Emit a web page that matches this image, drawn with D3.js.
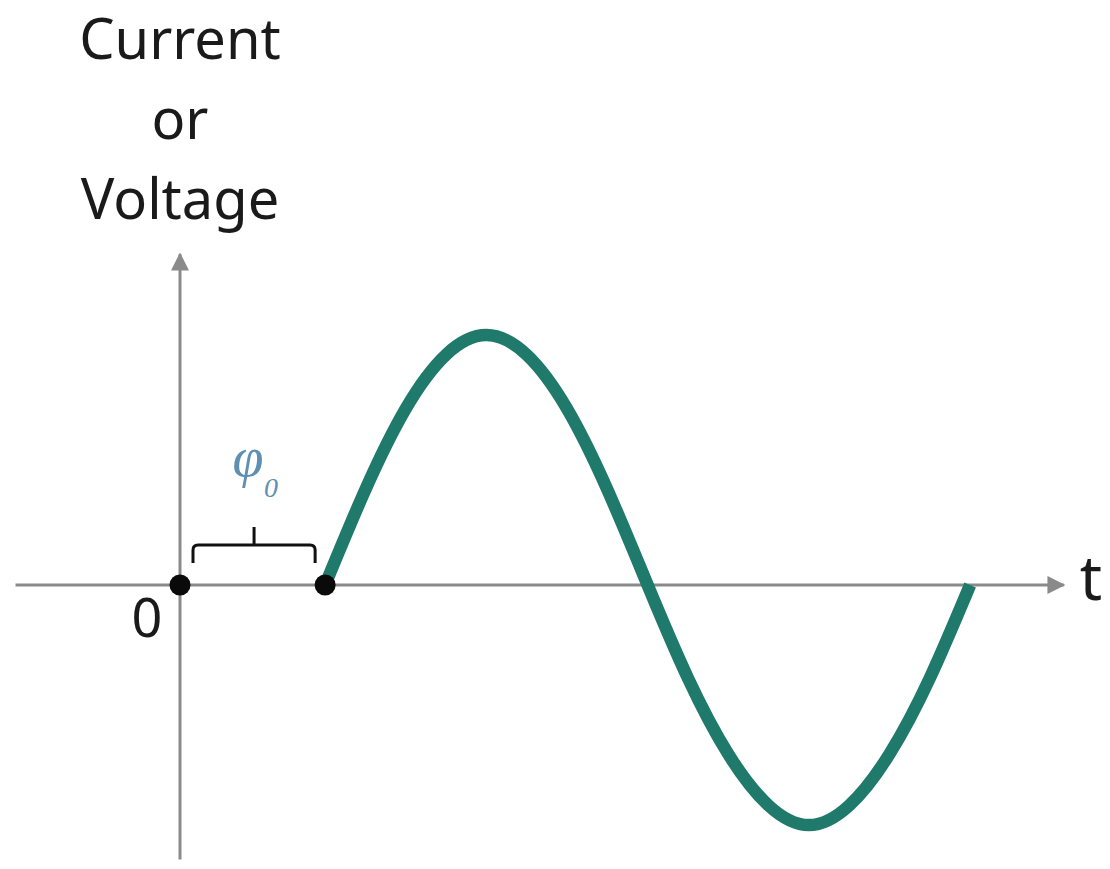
<!DOCTYPE html>
<html><head><meta charset="utf-8">
<script src="https://cdn.jsdelivr.net/npm/d3@7"></script>
<style>html,body{margin:0;padding:0;background:#fff;}svg{display:block;}</style>
</head><body>
<script>
// ---- data ----
const titleLines = ["Current", "or", "Voltage"];
const axisRangeT = [-2.55, 13.7];      // horizontal axis extent (t units)
const axisRangeY = [-1.12, 1.35];      // vertical axis extent (amplitude units)
const phaseT = 2.25;                   // wave start (phase offset φ0)
const waveT = [2.25, 2.875, 3.5, 4.125, 4.75, 5.375, 6, 6.625, 7.25, 7.875, 8.5, 9.125, 9.75, 10.375, 11, 11.625, 12.25];
const waveY = [0, 0.39, 0.72, 0.94, 1.02, 0.94, 0.72, 0.39, 0, -0.38, -0.69, -0.9, -0.98, -0.9, -0.69, -0.38, 0];
const originLabel = "0";
const tLabel = "t";
const phaseLabel = "φ";
const phaseSub = "0";

const W = 1110, H = 869;
const svg = d3.select("body").append("svg").attr("width", W).attr("height", H);

const x = d3.scaleLinear().domain([0, 10]).range([180, 825]);
const y = d3.scaleLinear().domain([-1, 1]).range([830, 340]);

const defs = svg.append("defs");
defs.append("marker").attr("id", "arr").attr("viewBox", "0 0 10 10")
  .attr("refX", 9).attr("refY", 5).attr("markerWidth", 7).attr("markerHeight", 6)
  .attr("markerUnits", "strokeWidth").attr("orient", "auto")
  .append("path").attr("d", "M0,0 L10,5 L0,10 Z").attr("fill", "#8a8a8a");

const axisColor = "#8a8a8a";
// horizontal axis
svg.append("line").attr("x1", x(axisRangeT[0])).attr("x2", x(axisRangeT[1]))
  .attr("y1", y(0)).attr("y2", y(0)).attr("stroke", axisColor).attr("stroke-width", 3)
  .attr("marker-end", "url(#arr)");
// vertical axis
svg.append("line").attr("x1", x(0)).attr("x2", x(0))
  .attr("y1", y(axisRangeY[0])).attr("y2", y(axisRangeY[1])).attr("stroke", axisColor).attr("stroke-width", 3)
  .attr("marker-end", "url(#arr)");

// wave
const pts = waveT.map((t, i) => [t, waveY[i]]);
svg.append("path").datum(pts)
  .attr("d", d3.line().x(d => x(d[0])).y(d => y(d[1])).curve(d3.curveNatural))
  .attr("fill", "none").attr("stroke", "#1f7a6b").attr("stroke-width", 12.5).attr("stroke-linecap", "butt");

// dots
svg.selectAll("circle.dot").data([0, phaseT]).join("circle")
  .attr("cx", d => x(d)).attr("cy", y(0)).attr("r", 10.5).attr("fill", "#0a0a0a");

// bracket
const bx0 = x(0) + 13, bx1 = x(phaseT) - 10, bm = (bx0 + bx1) / 2;
const bTop = y(0) - 40, bBot = y(0) - 22, r = 5;
svg.append("path")
  .attr("d", `M${bx0},${bBot} L${bx0},${bTop + r} Q${bx0},${bTop} ${bx0 + r},${bTop} L${bx1 - r},${bTop} Q${bx1},${bTop} ${bx1},${bTop + r} L${bx1},${bBot} M${bm},${bTop} L${bm},${bTop - 18}`)
  .attr("fill", "none").attr("stroke", "#111").attr("stroke-width", 3);

// phase label
svg.append("text").attr("x", bm - 6).attr("y", 476).attr("text-anchor", "middle")
  .attr("font-family", "Liberation Serif, serif").attr("font-style", "italic").attr("font-size", 56)
  .attr("fill", "#5f8fb3").text(phaseLabel);
svg.append("text").attr("x", bm + 17).attr("y", 497).attr("text-anchor", "middle")
  .attr("font-family", "Liberation Serif, serif").attr("font-style", "italic").attr("font-size", 28)
  .attr("fill", "#5f8fb3").text(phaseSub);

// text labels
const font = "Noto Sans, Open Sans, sans-serif";
svg.selectAll("text.title").data(titleLines).join("text")
  .attr("x", x(0)).attr("y", (d, i) => 59 + i * 80).attr("text-anchor", "middle")
  .attr("font-family", font).attr("font-size", 56).attr("fill", "#1a1a1a").text(d => d);

svg.append("text").attr("x", x(0) - 33).attr("y", 637).attr("text-anchor", "middle")
  .attr("font-family", font).attr("font-size", 54).attr("fill", "#1a1a1a").text(originLabel);

svg.append("text").attr("x", 1091).attr("y", 600).attr("text-anchor", "middle")
  .attr("font-family", font).attr("font-size", 62).attr("fill", "#1a1a1a").text(tLabel);
</script>
</body></html>
